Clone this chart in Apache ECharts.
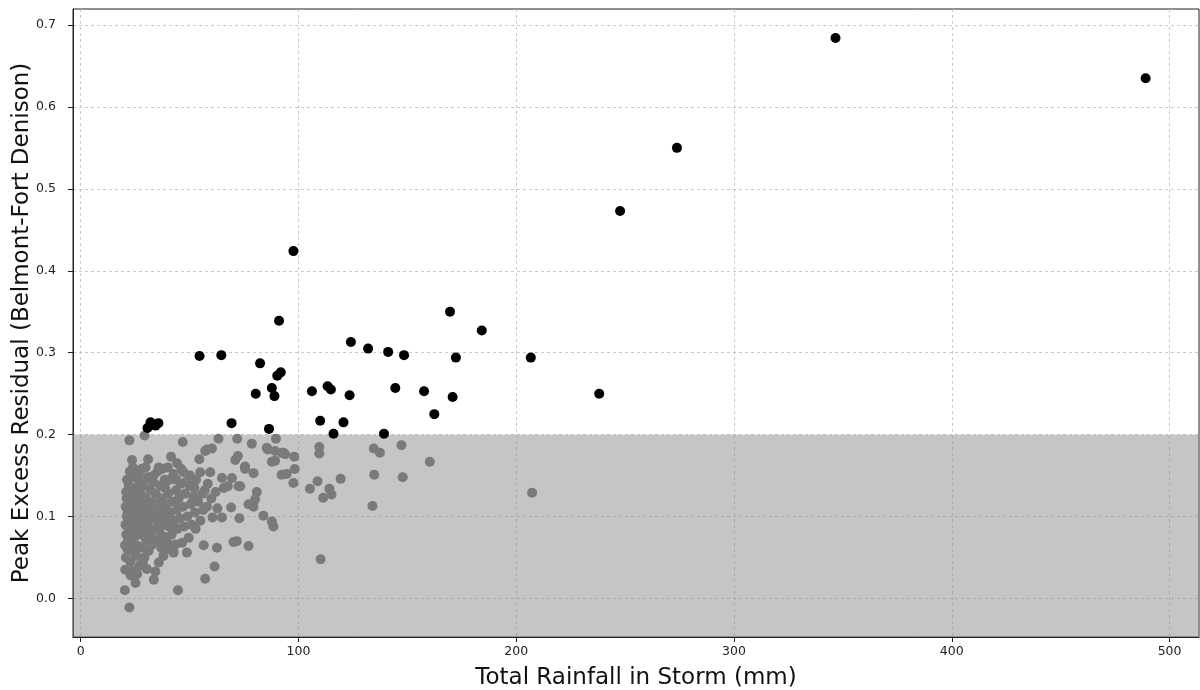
<!DOCTYPE html>
<html>
<head>
<meta charset="utf-8">
<script src="https://cdn.jsdelivr.net/npm/echarts@6/dist/echarts.min.js"></script>
<style>
  html, body { margin: 0; padding: 0; background: #fff; }
  #chart { width: 1200px; height: 690px; }
</style>
</head>
<body>
<div id="chart"></div>
<script>
// storms with peak residual above the 0.2 threshold  [rainfall mm, residual]
const highResidual = [
  [30.7, 0.208], [32.1, 0.215], [34.4, 0.211], [35.7, 0.214],
  [54.6, 0.296], [64.6, 0.297], [69.3, 0.214], [80.4, 0.250],
  [82.4, 0.287], [86.5, 0.207], [87.8, 0.257], [89.0, 0.247],
  [90.3, 0.272], [91.9, 0.276], [91.1, 0.339], [97.7, 0.424],
  [106.2, 0.253], [110.0, 0.217], [113.4, 0.259], [114.9, 0.255],
  [116.1, 0.201], [120.7, 0.215], [123.5, 0.248], [124.1, 0.313],
  [132.0, 0.305], [139.3, 0.201], [141.2, 0.301], [144.5, 0.257],
  [148.5, 0.297], [157.7, 0.253], [162.4, 0.225], [169.6, 0.350],
  [170.8, 0.246], [172.3, 0.294], [184.2, 0.327], [206.7, 0.294],
  [238.1, 0.250], [247.7, 0.473], [273.8, 0.550], [346.6, 0.684],
  [489.0, 0.635]
];

// storms at or below the threshold
const lowResidual = [
  [20.3, 0.010], [20.5, 0.035], [20.8, 0.050], [20.4, 0.065], [21.0, 0.078],
  [20.6, 0.090], [21.2, 0.100], [20.7, 0.112], [21.1, 0.122], [20.9, 0.130],
  [21.3, 0.145], [21.5, 0.060], [21.8, 0.072], [22.0, 0.085], [22.2, 0.095],
  [21.6, 0.105], [22.4, 0.118], [22.1, 0.138], [22.6, 0.155], [22.4, 0.193],
  [22.4, -0.011], [22.8, 0.045], [23.0, 0.028], [23.2, 0.068], [23.5, 0.082],
  [23.3, 0.108], [23.7, 0.125], [23.6, 0.169], [23.9, 0.148], [24.2, 0.058],
  [24.5, 0.092], [24.3, 0.115], [24.8, 0.075], [25.0, 0.102], [25.2, 0.019],
  [25.1, 0.135], [25.5, 0.052], [25.8, 0.120], [26.0, 0.088], [26.3, 0.064],
  [26.5, 0.145], [26.8, 0.108], [27.0, 0.040], [27.2, 0.078], [27.5, 0.128],
  [27.8, 0.095], [28.0, 0.158], [28.3, 0.062], [28.5, 0.115], [28.8, 0.085],
  [29.0, 0.138], [29.4, 0.199], [29.3, 0.050], [29.6, 0.102], [30.0, 0.072],
  [30.2, 0.122], [30.5, 0.090], [30.8, 0.148], [31.0, 0.170], [31.2, 0.058],
  [31.5, 0.110], [31.8, 0.080], [32.0, 0.132], [32.3, 0.098], [32.6, 0.065],
  [33.0, 0.118], [33.3, 0.142], [33.6, 0.023], [33.8, 0.085], [34.0, 0.105],
  [34.3, 0.033], [34.5, 0.128], [34.8, 0.072], [35.0, 0.095], [35.3, 0.155],
  [35.6, 0.115], [35.9, 0.044], [35.9, 0.160], [36.2, 0.082], [36.5, 0.138],
  [36.8, 0.102], [37.0, 0.062], [37.4, 0.158], [37.5, 0.122], [37.8, 0.090],
  [38.2, 0.108], [38.5, 0.075], [38.8, 0.135], [39.0, 0.098], [39.5, 0.115],
  [39.8, 0.068], [40.2, 0.128], [40.5, 0.088], [41.0, 0.145], [41.5, 0.173],
  [41.2, 0.105], [41.8, 0.078], [42.2, 0.118], [42.7, 0.152], [42.7, 0.056],
  [42.9, 0.064], [43.0, 0.095], [43.5, 0.066], [43.8, 0.132], [44.2, 0.108],
  [44.7, 0.010], [44.5, 0.085], [45.0, 0.122], [45.5, 0.098], [46.0, 0.140],
  [46.6, 0.068], [46.9, 0.191], [47.3, 0.154], [47.0, 0.112], [47.5, 0.088],
  [48.0, 0.128], [48.8, 0.056], [49.0, 0.100], [49.6, 0.074], [50.0, 0.138],
  [50.5, 0.115], [51.0, 0.090], [52.0, 0.125], [52.5, 0.105], [53.0, 0.145],
  [54.5, 0.170], [54.9, 0.154], [54.0, 0.118], [55.0, 0.095], [56.5, 0.065],
  [57.2, 0.024], [57.2, 0.180], [57.0, 0.132], [58.0, 0.112], [59.5, 0.154],
  [60.3, 0.183], [60.6, 0.099], [61.5, 0.039], [62.6, 0.062], [44.0, 0.145],
  [48.2, 0.142], [52.2, 0.135], [56.0, 0.128], [60.0, 0.122], [62.0, 0.130],
  [58.4, 0.140], [50.2, 0.150], [46.2, 0.158], [40.0, 0.160], [44.3, 0.165],
  [23.7, 0.034], [26.0, 0.030], [28.6, 0.045], [30.4, 0.036], [38.0, 0.052],
  [40.8, 0.060], [36.0, 0.070], [52.8, 0.085], [56.3, 0.108], [62.8, 0.110],
  [63.3, 0.195], [71.9, 0.195], [78.6, 0.189], [89.7, 0.195], [85.9, 0.182],
  [89.3, 0.180], [93.1, 0.178], [58.0, 0.182], [71.0, 0.169], [72.2, 0.174],
  [75.5, 0.161], [79.4, 0.153], [75.5, 0.158], [87.8, 0.167], [89.3, 0.168],
  [92.3, 0.151], [94.6, 0.152], [64.9, 0.147], [69.5, 0.147], [72.5, 0.137],
  [67.6, 0.137], [73.3, 0.137], [80.9, 0.130], [80.1, 0.121], [77.1, 0.115],
  [79.4, 0.112], [69.1, 0.111], [64.9, 0.099], [72.9, 0.098], [83.9, 0.101],
  [87.8, 0.094], [88.5, 0.088], [70.2, 0.069], [71.7, 0.070], [77.1, 0.064],
  [98.1, 0.173], [98.3, 0.158], [97.7, 0.141], [93.9, 0.176], [92.3, 0.178],
  [85.5, 0.184], [109.6, 0.185], [109.6, 0.177], [108.8, 0.143], [105.3, 0.134],
  [114.2, 0.134], [115.2, 0.127], [111.4, 0.123], [119.4, 0.146], [110.2, 0.048],
  [134.6, 0.183], [137.4, 0.178], [147.3, 0.187], [160.3, 0.167], [134.8, 0.151],
  [147.9, 0.148], [134.0, 0.113], [207.3, 0.129],
  [24.0, 0.160], [26.7, 0.152], [29.8, 0.160], [33.5, 0.150], [27.4, 0.112],
  [33.2, 0.072], [38.6, 0.145], [45.8, 0.112], [51.6, 0.120], [65.8, 0.135]
];

const xTicks = [0, 100, 200, 300, 400, 500];
const yTicks = [0, 0.1, 0.2, 0.3, 0.4, 0.5, 0.6, 0.7];
const xRange = [-3.5, 513.5];
const yRange = [-0.047, 0.7195];
const threshold = 0.2;

const chart = echarts.init(document.getElementById('chart'), null, { renderer: 'canvas' });

const gridLine = { show: true, lineStyle: { color: '#bdbdbd', width: 0.8, type: [3, 3] } };
const labelStyle = { color: '#222', fontSize: 12.5, fontFamily: 'DejaVu Sans' };
const nameStyle = { color: '#111', fontSize: 23, fontFamily: 'DejaVu Sans' };

chart.setOption({
  animation: false,
  backgroundColor: '#fff',
  grid: {
    left: 73, right: 1, top: 9, bottom: 53,
    outerBoundsMode: 'none',
    containLabel: false,
    show: true, borderColor: '#222', borderWidth: 1, backgroundColor: 'transparent'
  },
  xAxis: {
    type: 'value',
    min: xRange[0], max: xRange[1],
    name: 'Total Rainfall in Storm (mm)',
    nameLocation: 'middle',
    nameGap: 30,
    nameMoveOverlap: false,
    nameTextStyle: nameStyle,
    axisLine: { show: true, onZero: false, lineStyle: { color: '#222', width: 1 } },
    axisTick: { show: true, length: 5, customValues: xTicks, lineStyle: { color: '#222' } },
    axisLabel: { ...labelStyle, margin: 8, customValues: xTicks },
    splitLine: gridLine
  },
  yAxis: {
    type: 'value',
    min: yRange[0], max: yRange[1],
    name: 'Peak Excess Residual (Belmont-Fort Denison)',
    nameLocation: 'middle',
    nameGap: 39,
    nameMoveOverlap: false,
    nameRotate: 90,
    nameTextStyle: nameStyle,
    axisLine: { show: true, onZero: false, lineStyle: { color: '#222', width: 1 } },
    axisTick: { show: true, length: 5, customValues: yTicks, lineStyle: { color: '#222' } },
    axisLabel: {
      ...labelStyle, margin: 17, customValues: yTicks,
      formatter: (v) => v.toFixed(1)
    },
    splitLine: gridLine
  },
  series: [
    {
      type: 'scatter',
      data: lowResidual,
      symbolSize: 10,
      itemStyle: { color: '#7a7a7a', opacity: 1 },
      markArea: {
        silent: true,
        itemStyle: { color: 'rgba(140,140,140,0.5)' },
        data: [[
          { coord: [xRange[0], yRange[0]] },
          { coord: [xRange[1], threshold] }
        ]]
      }
    },
    {
      type: 'scatter',
      data: highResidual,
      symbolSize: 10,
      itemStyle: { color: '#000', opacity: 1 }
    }
  ]
});
</script>
</body>
</html>
